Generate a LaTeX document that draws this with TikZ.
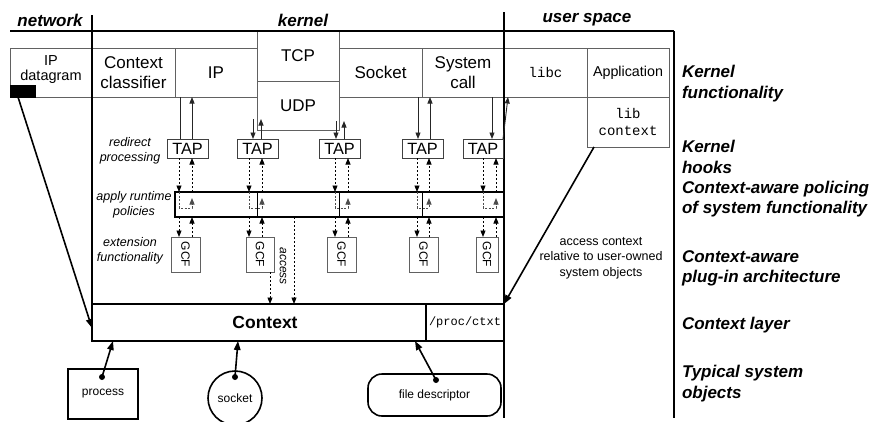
\documentclass[tikz,border=0pt]{standalone}
\usepackage{fontspec}
\setmainfont{Liberation Sans}
\setmonofont{Liberation Mono}
\usetikzlibrary{arrows.meta,calc}
\newcommand\myfs[2]{\fontsize{#1}{#2}\selectfont}

\begin{document}
\begin{tikzpicture}[x=1pt,y=-1pt,
  every node/.style={inner sep=0pt, outer sep=0pt},
  heavy/.style={line width=1.8pt},
  fbox/.style={draw=black!62, line width=0.9pt, anchor=north west, align=center,
    minimum height=49pt, font=\myfs{17}{19.5}},
  tapbox/.style={draw=black!75, line width=0.9pt, anchor=north west,
    minimum width=41pt, minimum height=19pt, font=\myfs{16.3}{18}},
  gcfbox/.style={draw=black!62, line width=0.9pt, anchor=north west, minimum height=35pt},
  gcftext/.style={rotate=-90, font=\myfs{12}{14}},
  kline/.style={draw=black!85, line width=0.9pt},
  karrow/.style={kline, -{Triangle[length=6.5pt,width=5pt]}},
  darrow/.style={draw=black, line width=0.9pt, dash pattern=on 2.4pt off 1.6pt,
    -{Triangle[length=6.5pt,width=5pt]}},
  dinner/.style={draw=black!70, line width=0.9pt, dash pattern=on 2pt off 1.6pt,
    -{Triangle[length=6.5pt,width=5pt]}},
  big/.style={line width=1.6pt, -{Triangle[length=9pt,width=6.5pt]}},
  layer/.style={anchor=west, align=left, font=\myfs{17}{20.5}\bfseries\itshape},
  hdr/.style={font=\myfs{17}{20}\bfseries\itshape},
  hook/.style={align=center, font=\myfs{12.5}{15}\itshape},
  obj/.style={draw, line width=1.6pt, font=\myfs{12}{14}},
]
\useasboundingbox (0,0) rectangle (875,421);

% ---- column headers and separators
\node[hdr] at (50,20) {network};
\node[hdr] at (303,20) {kernel};
\node[hdr] at (587,20) {user space};

% ---- kernel functionality row
\node[fbox, minimum width=82pt,
  label={[yshift=3pt, align=center, font=\myfs{14.5}{15.5}]center:IP\\datagram}] (ipd) at (10,48) {};
\node[draw, fill=black, anchor=south west, minimum width=25pt, minimum height=12pt] (dg) at (10,97) {};
\node[fbox, minimum width=83pt] (cc) at (92,48) {Context\\classifier};
\node[fbox, minimum width=82pt] (ip) at (175,48) {IP};
\node[fbox, minimum width=82pt, minimum height=50pt] (tcp) at (257,31) {TCP};
\node[fbox, minimum width=82pt] (udp) at (257,81) {UDP};
\node[fbox, minimum width=83pt] (sock) at (339,48) {Socket};
\node[fbox, minimum width=82pt] (sysc) at (422,48) {System\\call};
\node[fbox, minimum width=83pt, font=\myfs{14}{16}\ttfamily] (libc) at (504,48) {libc};
\node[fbox, minimum width=82pt, font=\myfs{14.3}{16}] (app) at (587,48) {Application};
\node[fbox, minimum width=82pt, minimum height=50pt, font=\myfs{14}{17}\ttfamily] (libctx) at (587,97) {lib\\context};

% ---- heavy frame lines
\draw[heavy] (10,31) -- (674,31);
\draw[heavy] (92,15) -- (92,304);
\draw[heavy] (504,12) -- (504,418);
\draw[heavy] (674,31) -- (674,418);

% ---- kernel hooks
\node[tapbox] (tap1) at (167,139) {TAP};
\node[tapbox] (tap2) at (237,139) {TAP};
\node[tapbox] (tap3) at (319,139) {TAP};
\node[tapbox] (tap4) at (402,139) {TAP};
\node[tapbox, minimum width=40pt] (tap5) at (463,139) {TAP};

% ---- policing band
\node[draw, line width=1.1pt, anchor=north west, minimum width=329pt, minimum height=25pt] (pol) at (175,192) {};
\foreach \x in {257,339,422}
  \draw[line width=1pt] (\x,0 |- pol.north) -- (\x,0 |- pol.south);

% ---- plug-in boxes
\node[gcfbox, minimum width=29pt, label={[gcftext]center:GCF}] (gcf1) at (171,237) {};
\node[gcfbox, minimum width=28pt, label={[gcftext]center:GCF}] (gcf2) at (246,237) {};
\node[gcfbox, minimum width=29pt, label={[gcftext]center:GCF}] (gcf3) at (327,237) {};
\node[gcfbox, minimum width=29pt, label={[gcftext]center:GCF}] (gcf4) at (409,237) {};
\node[gcfbox, minimum width=22pt, label={[gcftext]center:GCF}] (gcf5) at (476,237) {};

% ---- context layer
\node[draw, heavy, anchor=north west, minimum width=334pt, minimum height=37pt,
  label={[xshift=6pt, font=\myfs{17.5}{20}\bfseries]center:Context}] (ctx) at (92,304) {};
\node[draw, heavy, anchor=north west, minimum width=78pt, minimum height=37pt,
  font=\myfs{12}{14}\ttfamily] (proc) at (426,304) {/proc/ctxt};

% ---- left-hand hook labels
\node[hook] at (130,151) {redirect\\processing};
\node[hook] at (134,205) {apply runtime\\policies};
\node[hook] at (130,251) {extension\\functionality};
\node[rotate=-90, font=\myfs{12}{14}\itshape] at (283,266) {access};

% ---- right-hand layer labels
\node[layer] at (682,83.5) {Kernel\\functionality};
\node[layer] at (682,157) {Kernel\\hooks};
\node[layer] at (682,199) {Context-aware policing\\of system functionality};
\node[layer] at (682,268.5) {Context-aware\\plug-in architecture};
\node[layer] at (682,325) {Context layer};
\node[layer] at (682,383.5) {Typical system\\objects};

\node[align=center, font=\myfs{12.5}{15.5}] at (601,258)
  {access context\\relative to user-owned\\system objects};

% ---- column coordinates for the hook arrows
\foreach \x in {179,180,192,249,262,270,294,335,348,417,418,429,430,483,492,496}
  \coordinate (c\x) at (\x,0);
\coordinate (u2a) at (253,119);
\coordinate (u2b) at (261,119);
\coordinate (u3a) at (336,121);
\coordinate (u3b) at (344,121);

% functionality <-> TAP
\draw[kline]  (c180 |- ip.south) -- (c180 |- tap1.north);
\draw[karrow] (c192 |- tap1.north) -- (c192 |- ip.south);
\draw[karrow] (u2a) -- (u2a |- tap2.north);
\draw[karrow] (u2b |- tap2.north) -- (u2b);
\draw[karrow] (u3a) -- (u3a |- tap3.north);
\draw[karrow] (u3b |- tap3.north) -- (u3b);
\draw[karrow] (c418 |- sock.south) -- (c418 |- tap4.north);
\draw[karrow] (c430 |- tap4.north) -- (c430 |- sysc.south);
\draw[karrow] (c492 |- sysc.south) -- (c492 |- tap5.north);
\draw[karrow] (tap5.north east) -- ([xshift=4pt]libc.south west);

% TAP <-> policies <-> GCF
\foreach \l/\r/\t/\g in {179/192/tap1/gcf1, 249/262/tap2/gcf2, 335/348/tap3/gcf3,
                          417/429/tap4/gcf4, 483/496/tap5/gcf5}{
  \draw[darrow] (c\l |- \t.south) -- (c\l |- pol.north);
  \draw[darrow] (c\r |- pol.north) -- (c\r |- \t.south);
  \draw[dinner] (c\l |- pol.north) -- (\l,208) -- (\r,208) -- (\r,198);
  \draw[darrow] (c\l |- pol.south) -- (c\l |- \g.north);
  \draw[darrow] (c\r |- \g.north) -- (c\r |- pol.south);
}

% access to the context layer
\draw[darrow] (c270 |- gcf2.south) -- (c270 |- ctx.north);
\draw[darrow] (c294 |- pol.south) -- (c294 |- ctx.north);

% ---- big connectors
\draw[big] ([xshift=-4.5pt]dg.south) -- ([yshift=-5.5pt]ctx.west);
\draw[big] ([xshift=7pt]libctx.south west) -- (proc.north east);

% ---- typical system objects
\node[obj, anchor=north west, minimum width=70pt, minimum height=50pt] (pbox) at (68,369) {process};
\node[obj, circle, minimum size=54pt] (sockobj) at (235,398) {socket};
\node[obj, rounded corners=14pt, anchor=north west, minimum width=133pt, minimum height=42pt] (fdesc) at (368,374) {file descriptor};

\coordinate (pdot) at (102,377);
\coordinate (sdot) at (235,377);
\coordinate (fdot) at (436,380);
\foreach \d in {pdot,sdot,fdot} \fill (\d) circle (3pt);
\draw[big] (pdot) -- ([xshift=21pt]ctx.south west);
\draw[big] (sdot) -- ([xshift=146pt]ctx.south west);
\draw[big] (fdot) -- ([xshift=323pt]ctx.south west);
\end{tikzpicture}
\end{document}
